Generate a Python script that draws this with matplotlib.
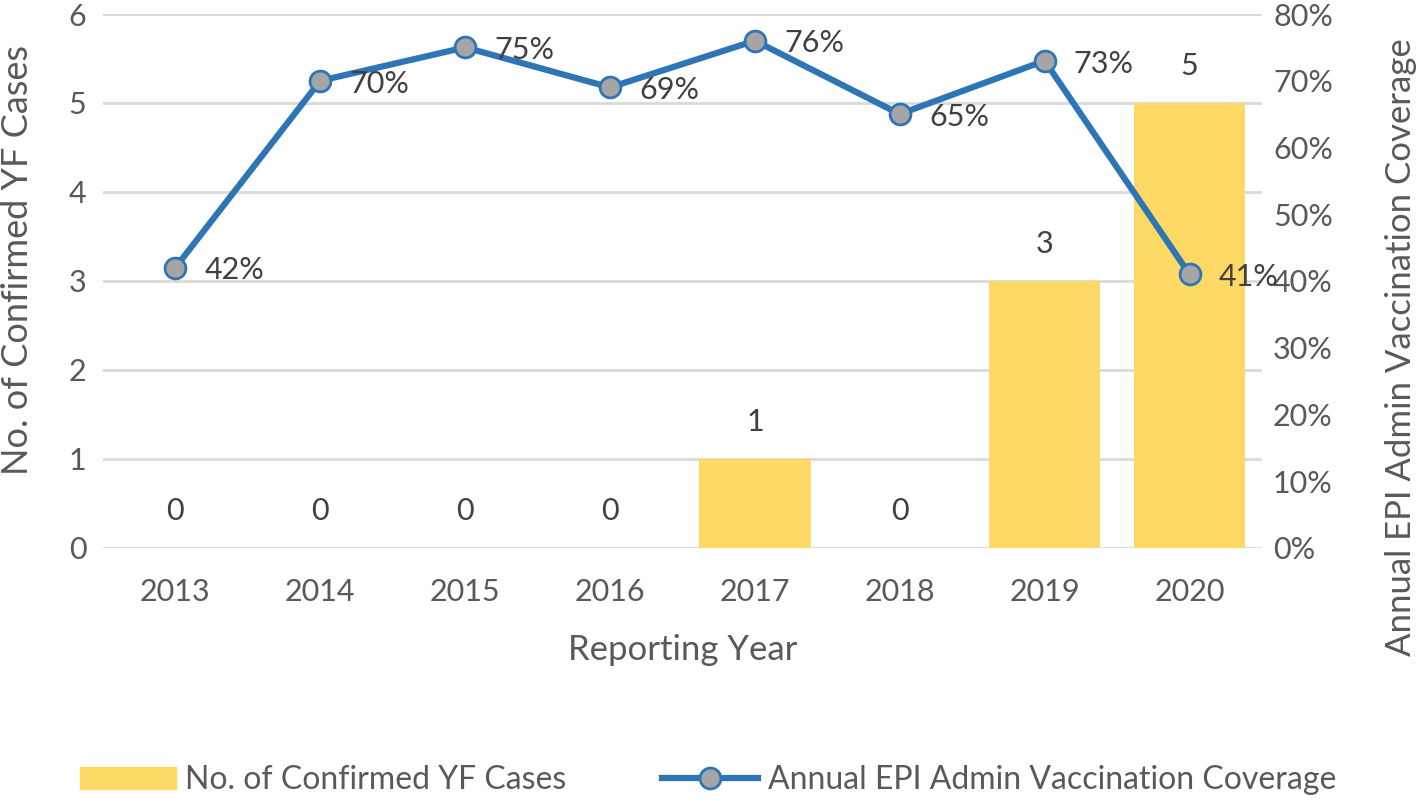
import numpy as np
import matplotlib.pyplot as plt
from matplotlib.lines import Line2D
from matplotlib.patches import Patch

plt.rcParams['font.family'] = ['Lato', 'DejaVu Sans']

years = ['2013', '2014', '2015', '2016', '2017', '2018', '2019', '2020']
cases = [0, 0, 0, 0, 1, 0, 3, 5]
coverage = [42, 70, 75, 69, 76, 65, 73, 41]

bar_col = '#FFD966'
line_col = '#2E75B6'
txt_col = '#595959'
lab_col = '#404040'

fig = plt.figure(figsize=(14.16, 8.01), dpi=100)
ax = fig.add_axes([0.0727, 0.316, 0.8185, 0.6665])
ax2 = ax.twinx()

x = np.arange(len(years))
ax.bar(x, cases, width=0.77, color=bar_col, zorder=2)
for xi, v in zip(x, cases):
    ax.text(xi, v + 0.42, str(v), ha='center', va='center', fontsize=22, color=lab_col)

ax2.plot(x, coverage, color=line_col, lw=4.5, marker='o', ms=15,
         mfc='#A5A5A5', mec=line_col, mew=2, zorder=3)
for xi, v in zip(x, coverage):
    ax2.annotate(f'{v}%', (xi, v), xytext=(21, -2), textcoords='offset points',
                 ha='left', va='center', fontsize=22, color=lab_col)

ax.set_xlim(-0.5, len(years) - 0.5)
ax.set_ylim(0, 6)
ax2.set_ylim(0, 80)
ax.set_yticks(range(0, 7))
ax2.set_yticks(range(0, 81, 10))
ax2.set_yticklabels([f'{t}%' for t in range(0, 81, 10)])
ax.set_xticks(x)
ax.set_xticklabels(years)

ax.grid(axis='y', color='#D9D9D9', lw=2, zorder=0)
ax.set_axisbelow(True)
for a in (ax, ax2):
    for s in a.spines.values():
        s.set_visible(False)
    a.tick_params(length=0, labelsize=22, colors=txt_col)
ax.tick_params(axis='x', pad=22)
ax.tick_params(axis='y', pad=12)
ax2.tick_params(axis='y', pad=8)

ax.set_xlabel('Reporting Year', fontsize=25, color=txt_col, labelpad=20)
fig.text(18 / 1416, 1 - 260 / 801, 'No. of Confirmed YF Cases', rotation=90,
         ha='center', va='center', fontsize=26, color=txt_col)
fig.text(1401 / 1416, 1 - 347 / 801, 'Annual EPI Admin Vaccination Coverage', rotation=90,
         ha='center', va='center', fontsize=25, color=txt_col)

handles = [Patch(color=bar_col),
           Line2D([], [], color=line_col, lw=4.5, marker='o', ms=15,
                  mfc='#A5A5A5', mec=line_col, mew=2)]
fig.legend(handles, ['No. of Confirmed YF Cases', 'Annual EPI Admin Vaccination Coverage'],
           loc='center', bbox_to_anchor=(0.5, 0.026), ncol=2, frameon=False,
           fontsize=23, labelcolor=txt_col, handlelength=3, columnspacing=3,
           handletextpad=0.3)

fig.savefig('out.png', dpi=100)
